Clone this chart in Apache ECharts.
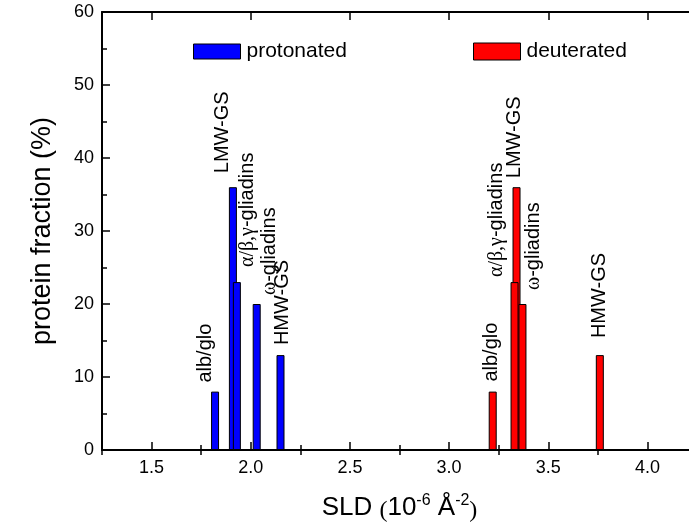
<!DOCTYPE html>
<html>
<head>
<meta charset="utf-8">
<script src="https://cdn.jsdelivr.net/npm/echarts@6/dist/echarts.min.js"></script>
<style>
html,body{margin:0;padding:0;background:#fff;}
#chart{width:689px;height:527px;}
</style>
</head>
<body>
<div id="chart"></div>
<script>
// ---- data ----
var components = ['alb/glo', 'LMW-GS', 'α/β,γ-gliadins', 'ω-gliadins', 'HMW-GS'];
var fractions = [8, 36, 23, 20, 13];
var sldProtonated = [1.82, 1.91, 1.93, 2.03, 2.15];
var sldDeuterated = [3.22, 3.34, 3.33, 3.37, 3.76];
var seriesNames = ['protonated', 'deuterated'];
var xMajorTicks = [1.5, 2.0, 2.5, 3.0, 3.5, 4.0];
var xMinorTicks = [1.25, 1.75, 2.25, 2.75, 3.25, 3.75, 4.25];
var yMajorTicks = [0, 10, 20, 30, 40, 50, 60];
var yMinorTicks = [5, 15, 25, 35, 45, 55];

// ---- label placement (style, px relative to bar top-center) ----
var labelShiftProt = [[-10, 9], [-10, 14], [11, 15], [13, 9], [2, 10]];
var labelShiftDeut = [[-1, 10], [-2, 9], [-18, 5], [11, 14], [0, 17]];

var FONT = 'Liberation Sans, Arial, sans-serif';
var SERIF = 'Liberation Serif, Times New Roman, serif';
var BAR_W = 8;

function labelText(s) {
  if (/[α-ω]/.test(s)) {
    var k = s.lastIndexOf('-');
    return '{g|' + s.slice(0, k) + '}-' + s.slice(k + 1);
  }
  return s;
}

function makeData(xs, shifts) {
  return xs.map(function (x, i) {
    return {
      value: [x, fractions[i]],
      label: {
        position: [BAR_W / 2 + shifts[i][0], -shifts[i][1]],
        formatter: labelText(components[i])
      }
    };
  });
}

function barSeries(name, color, xs, shifts) {
  return {
    name: name,
    type: 'bar',
    xAxisIndex: 0,
    yAxisIndex: 0,
    barWidth: BAR_W,
    barGap: '-100%',
    itemStyle: { color: color, borderColor: '#000', borderWidth: 1 },
    label: {
      show: true,
      rotate: 90,
      align: 'left',
      verticalAlign: 'middle',
      color: '#000',
      fontFamily: FONT,
      fontSize: 20,
      rich: { g: { fontFamily: SERIF, fontSize: 20, color: '#000' } }
    },
    emphasis: { disabled: true },
    animation: false,
    data: makeData(xs, shifts),
    z: 2
  };
}

function axisBase(extra) {
  var o = {
    type: 'value',
    splitLine: { show: false },
    axisLine: { show: true, onZero: false, lineStyle: { color: '#000', width: 2 } },
    axisTick: { show: true, inside: true, lineStyle: { color: '#000', width: 1.5 } },
    axisLabel: { show: false }
  };
  for (var k in extra) o[k] = extra[k];
  return o;
}

var chart = echarts.init(document.getElementById('chart'), null, { renderer: 'canvas' });
var option = {
  backgroundColor: '#fff',
  animation: false,
  grid: { left: 102, right: -8, top: 12, bottom: 77, outerBoundsMode: 'none', containLabel: false },
  legend: [
    {
      data: [seriesNames[0]], left: 193, top: 41, padding: 0, icon: 'rect',
      itemWidth: 47, itemHeight: 15, itemGap: 0,
      itemStyle: { borderColor: '#000', borderWidth: 1 },
      textStyle: { fontFamily: FONT, fontSize: 21, color: '#000', padding: [0, 0, 0, 1] },
      selectedMode: false
    },
    {
      data: [seriesNames[1]], left: 473, top: 41, padding: 0, icon: 'rect',
      itemWidth: 47, itemHeight: 17, itemGap: 0,
      itemStyle: { borderColor: '#000', borderWidth: 1 },
      textStyle: { fontFamily: FONT, fontSize: 21, color: '#000', padding: [0, 0, 0, 1] },
      selectedMode: false
    }
  ],
  xAxis: [
    axisBase({
      position: 'bottom', min: 1.25, max: 4.25,
      axisTick: { show: true, inside: true, length: 8, customValues: xMajorTicks, lineStyle: { color: '#000', width: 1.5 } },
      axisLabel: {
        show: true, customValues: xMajorTicks, margin: 9, color: '#000', fontFamily: FONT, fontSize: 18,
        formatter: function (v) { return v.toFixed(1); }
      },
      name: '{a|SLD }{p|(}{a|10}{s|-6}{a| Å}{s|-2}{p|)}',
      nameLocation: 'middle',
      nameGap: 43,
      nameTextStyle: {
        color: '#000', fontFamily: FONT, fontSize: 26, verticalAlign: 'top',
        rich: {
          a: { fontFamily: FONT, fontSize: 26, color: '#000' },
          p: { fontFamily: SERIF, fontSize: 24, color: '#000', padding: [6, 0, 0, 0] },
          s: { fontFamily: FONT, fontSize: 16, color: '#000', verticalAlign: 'top', padding: [0, 0, 14, 0] }
        }
      }
    }),
    axisBase({
      position: 'bottom', min: 1.25, max: 4.25,
      axisLine: { show: false },
      axisTick: { show: true, inside: true, length: 5, customValues: xMinorTicks, lineStyle: { color: '#000', width: 1.5 } }
    }),
    axisBase({
      position: 'top', min: 1.25, max: 4.25,
      axisTick: { show: true, inside: true, length: 8, customValues: xMajorTicks, lineStyle: { color: '#000', width: 1.5 } }
    }),
    axisBase({
      position: 'top', min: 1.25, max: 4.25,
      axisLine: { show: false },
      axisTick: { show: true, inside: true, length: 5, customValues: xMinorTicks, lineStyle: { color: '#000', width: 1.5 } }
    })
  ],
  yAxis: [
    axisBase({
      position: 'left', min: 0, max: 60,
      axisTick: { show: true, inside: true, length: 8, customValues: yMajorTicks, lineStyle: { color: '#000', width: 1.5 } },
      axisLabel: { show: true, customValues: yMajorTicks, margin: 8, color: '#000', fontFamily: FONT, fontSize: 18 },
      name: 'protein fraction (%)',
      nameLocation: 'middle',
      nameGap: 46,
      nameTextStyle: { color: '#000', fontFamily: FONT, fontSize: 27 }
    }),
    axisBase({
      position: 'left', min: 0, max: 60,
      axisLine: { show: false },
      axisTick: { show: true, inside: true, length: 5, customValues: yMinorTicks, lineStyle: { color: '#000', width: 1.5 } }
    }),
    axisBase({
      position: 'right', min: 0, max: 60,
      axisTick: { show: true, inside: true, length: 8, customValues: yMajorTicks, lineStyle: { color: '#000', width: 1.5 } }
    })
  ],
  series: [
    barSeries(seriesNames[0], '#0000ff', sldProtonated, labelShiftProt),
    barSeries(seriesNames[1], '#ff0000', sldDeuterated, labelShiftDeut)
  ]
};
chart.setOption(option);
</script>
</body>
</html>
